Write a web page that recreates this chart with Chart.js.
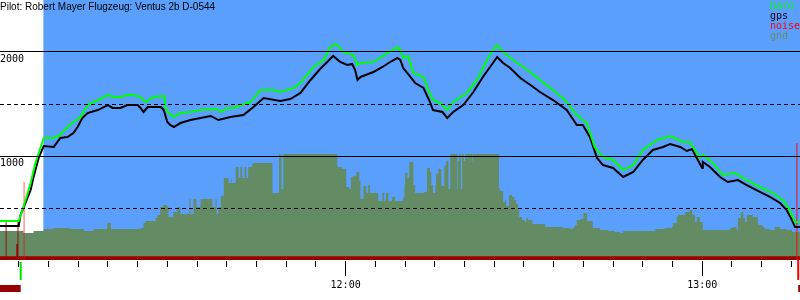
<!DOCTYPE html>
<html>
<head>
<meta charset="utf-8">
<script src="https://cdn.jsdelivr.net/npm/chart.js@4.4.1/dist/chart.umd.min.js"></script>
<style>
  html, body { margin: 0; padding: 0; background: #fff; }
</style>
</head>
<body>
<canvas id="flug" width="800" height="300"></canvas>
<script>
// Zeit in Minuten relativ zu 12:00, Hoehe in m
const title = 'Pilot: Robert Mayer Flugzeug: Ventus 2b D-0544';
const timeRange = [-58.15, 76.45];
const flightStart = -50.85;          // blauer Bereich ab hier
const takeoff = -54.67;
const landing = 76.15;
const hourTicks = [0, 60];
const hourLabels = ['12:00', '13:00'];
const altLabels = [1000, 2000];
const legendNames = ['baro', 'gps', 'noise', 'gnd'];

const baro = [
  [-58.2,375],[-55.0,375],[-54.2,510],[-53.0,740],[-52.2,933],[-51.3,1087],[-50.8,1173],[-49.1,1173],
  [-48.0,1202],[-46.8,1279],[-45.8,1327],[-44.6,1375],[-43.4,1490],[-42.4,1519],[-41.2,1548],[-40.0,1587],
  [-39.0,1567],[-37.9,1567],[-36.7,1587],[-35.7,1587],[-34.5,1567],[-33.7,1519],[-32.3,1567],[-30.8,1577],
  [-30.5,1577],[-30.3,1462],[-29.8,1413],[-28.9,1375],[-27.8,1413],[-26.1,1423],[-24.4,1442],[-21.6,1452],
  [-21.0,1423],[-19.9,1462],[-18.9,1462],[-16.0,1519],[-14.3,1635],[-12.1,1635],[-11.0,1615],[-8.8,1654],
  [-7.6,1702],[-5.4,1856],[-3.7,1923],[-2.6,2048],[-1.7,2077],[-1.2,2058],[-0.4,2000],[1.3,1971],
  [2.0,1875],[2.5,1894],[4.7,1904],[7.0,1990],[8.7,2048],[9.2,2019],[9.7,1942],[10.5,1962],
  [11.4,1798],[13.1,1760],[13.9,1635],[14.7,1538],[15.9,1510],[17.1,1442],[18.1,1519],[20.4,1606],
  [22.1,1731],[23.8,1923],[24.8,2019],[25.5,2067],[26.5,2000],[28.2,1923],[29.4,1875],[31.1,1808],
  [32.7,1731],[34.9,1635],[36.9,1538],[38.9,1394],[40.6,1317],[41.9,1087],[43.3,990],[45.0,962],
  [46.7,865],[48.4,913],[50.0,1058],[52.4,1154],[54.6,1192],[56.8,1135],[57.9,1135],[59.6,981],
  [60.1,1010],[61.8,933],[63.5,817],[65.5,837],[67.5,769],[69.7,702],[71.9,644],[73.6,577],
  [74.7,481],[75.6,365],[76.6,365]
];

const gps = [
  [-58.2,327],[-55.0,327],[-54.7,433],[-54.2,500],[-53.0,673],[-52.5,798],[-51.6,990],[-50.8,1096],
  [-49.1,1087],[-48.0,1173],[-46.8,1183],[-45.8,1221],[-45.1,1279],[-44.3,1365],[-43.4,1413],[-41.7,1442],
  [-40.0,1490],[-39.2,1462],[-37.9,1462],[-36.7,1490],[-35.0,1490],[-34.5,1462],[-34.0,1423],[-33.3,1471],
  [-31.1,1471],[-30.6,1442],[-30.0,1327],[-29.5,1298],[-28.9,1279],[-27.8,1317],[-26.1,1346],[-24.4,1365],
  [-22.7,1385],[-21.4,1346],[-19.4,1375],[-17.2,1394],[-15.5,1471],[-13.8,1558],[-11.0,1529],[-9.3,1548],
  [-7.6,1606],[-5.9,1731],[-4.3,1836],[-3.1,1904],[-2.1,1962],[-0.9,1904],[0.3,1875],[1.1,1885],
  [1.6,1827],[2.0,1731],[2.5,1760],[4.7,1808],[6.2,1856],[7.5,1904],[8.7,1942],[9.2,1923],
  [9.7,1846],[10.9,1760],[11.7,1702],[13.1,1654],[14.2,1519],[14.7,1442],[16.3,1423],[17.1,1365],
  [18.1,1423],[19.8,1490],[21.5,1615],[23.1,1760],[24.3,1856],[25.5,1952],[26.5,1894],[27.7,1846],
  [29.4,1750],[31.1,1683],[32.7,1615],[34.9,1538],[37.2,1442],[38.9,1298],[39.9,1298],[41.1,1183],
  [42.3,981],[43.3,913],[45.0,885],[46.7,798],[48.4,846],[50.0,962],[51.7,1058],[53.4,1087],
  [54.6,1115],[56.3,1087],[57.4,1048],[58.3,1067],[58.8,1010],[60.0,885],[60.1,942],[61.3,894],
  [63.0,798],[64.3,750],[66.0,769],[67.5,721],[69.7,654],[71.4,606],[73.1,548],[74.2,481],
  [75.1,385],[75.6,317],[76.6,317]
];

// Treppenstufen: Wert gilt ab dem Zeitpunkt bis zum naechsten
const gnd = [
  [-58.2,279],[-54.2,260],[-52.5,279],[-50.8,298],[-49.1,308],[-46.3,298],[-44.0,279],[-42.4,298],
  [-40.1,356],[-39.5,298],[-37.0,298],[-34.5,308],[-34.0,356],[-33.7,375],[-32.0,404],[-31.7,433],
  [-31.2,510],[-30.7,529],[-30.0,510],[-29.8,413],[-29.0,462],[-28.3,510],[-27.8,442],[-26.3,587],
  [-26.1,442],[-25.6,587],[-25.1,510],[-24.4,587],[-22.4,510],[-21.9,587],[-21.7,442],[-21.4,510],
  [-21.0,615],[-20.5,788],[-19.7,740],[-19.3,788],[-19.2,740],[-18.5,894],[-18.0,788],[-17.7,894],
  [-17.4,788],[-17.0,894],[-16.7,788],[-16.4,894],[-15.7,933],[-12.3,644],[-11.2,1019],[-10.8,683],
  [-10.5,1019],[-1.4,894],[-0.6,875],[0.1,702],[0.6,683],[0.9,798],[1.3,808],[1.8,846],
  [2.3,760],[2.5,587],[3.0,712],[3.5,644],[3.8,721],[4.1,644],[5.5,567],[6.2,644],
  [6.5,567],[6.8,644],[7.2,567],[7.8,606],[8.3,567],[9.7,606],[9.9,721],[10.0,837],
  [10.4,788],[10.7,942],[11.4,721],[11.7,644],[13.2,654],[13.7,885],[14.2,846],[14.4,721],
  [14.7,644],[15.1,721],[15.2,827],[15.6,875],[16.1,712],[16.6,904],[16.9,952],[17.3,683],
  [17.6,1019],[18.8,683],[18.9,952],[19.1,1019],[19.4,683],[19.6,1019],[19.9,952],[20.1,1019],
  [21.3,952],[21.4,1019],[25.8,683],[26.0,663],[26.5,558],[26.8,577],[27.0,519],[27.5,625],
  [28.0,606],[28.4,577],[28.7,538],[29.0,481],[29.2,413],[29.7,385],[30.2,365],[30.4,404],
  [30.7,385],[31.4,346],[33.6,317],[36.6,308],[37.8,298],[38.3,317],[38.6,337],[38.9,385],
  [39.5,394],[40.0,452],[40.6,375],[41.6,308],[42.8,288],[44.2,279],[45.3,269],[46.2,260],
  [46.7,279],[52.1,298],[53.7,308],[54.9,317],[55.1,356],[55.7,413],[55.9,433],[57.1,462],
  [57.9,481],[58.3,433],[58.8,365],[59.1,413],[59.6,365],[60.1,288],[63.8,288],[64.7,308],
  [65.2,317],[65.8,288],[66.0,404],[66.5,462],[66.9,404],[67.2,365],[67.5,433],[68.5,413],
  [69.4,337],[70.2,317],[70.5,298],[71.4,288],[72.2,317],[73.1,298],[74.2,288],[75.1,269],
  [76.6,269]
];

const noiseLow = [[-58.2,35],[-57.2,365],[-57.05,35],[-55.4,155],[-55.2,365],[-55.05,35],[76.6,35]];
const noise = [[-54.2,750],[-54.05,0],[75.85,1125],[76.05,0]];

const pts = arr => arr.map(([t, v]) => ({ x: t, y: v }));
const monoFont = { family: '"DejaVu Sans Mono", monospace', size: 10 };

const extras = {
    id: 'extras',
    beforeDatasetsDraw(chart) {
        const { ctx, chartArea: a, scales: { x } } = chart;
        const x0 = x.getPixelForValue(flightStart);
        ctx.save();
        ctx.fillStyle = '#5a9ffc';
        ctx.fillRect(x0, a.top, a.right - x0, a.bottom - a.top);
        ctx.restore();
    },
    afterDraw(chart) {
        const { ctx, chartArea: a, scales: { x } } = chart;
        const xs = x.getPixelForValue(takeoff);
        const xl = x.getPixelForValue(landing);
        ctx.save();
        // Bodenzeit vor Start / nach Landung
        ctx.fillStyle = '#990000';
        ctx.fillRect(a.left, a.bottom + 25, xs - a.left, 7);
        ctx.fillRect(xl, a.bottom + 25, a.right - xl, 7);
        // Start- und Landemarke
        ctx.lineWidth = 2;
        ctx.strokeStyle = '#00dd00';
        ctx.beginPath(); ctx.moveTo(xs, a.bottom + 2); ctx.lineTo(xs, a.bottom + 20); ctx.stroke();
        ctx.strokeStyle = '#ff0000';
        ctx.beginPath(); ctx.moveTo(xl, a.bottom); ctx.lineTo(xl, a.bottom + 20); ctx.stroke();
        // Titel
        ctx.fillStyle = '#000';
        ctx.textBaseline = 'alphabetic';
        ctx.textAlign = 'left';
        ctx.font = '10px "Liberation Sans", Arial, sans-serif';
        ctx.fillText(title, 0, 10);
        // Legende
        ctx.font = '10px "DejaVu Sans Mono", monospace';
        legendNames.forEach((name, i) => {
            const ds = chart.data.datasets.find(d => d.label === name);
            ctx.fillStyle = ds.legendColor;
            ctx.fillText(name, 770, 9 + i * 10);
        });
        ctx.restore();
    }
};

new Chart(document.getElementById('flug'), {
    type: 'line',
    data: {
        datasets: [
            { label: 'baro', data: pts(baro), borderColor: '#00ff00', legendColor: '#00ff00',
              borderWidth: 2, pointRadius: 0, fill: false },
            { label: 'gps', data: pts(gps), borderColor: '#000000', legendColor: '#000000',
              borderWidth: 2, pointRadius: 0, fill: false },
            { label: 'noise', data: pts(noise), stepped: true, borderWidth: 0, pointRadius: 0,
              backgroundColor: '#ff0000', legendColor: '#ff0000', fill: 'origin' },
            { label: 'noiseLow', data: pts(noiseLow), stepped: true, borderWidth: 0, pointRadius: 0,
              backgroundColor: '#990000', fill: 'origin' },
            { label: 'gnd', data: pts(gnd), stepped: true, borderWidth: 0, pointRadius: 0,
              backgroundColor: '#648c64', legendColor: '#648c64', fill: 'origin' }
        ]
    },
    options: {
        responsive: false,
        animation: false,
        events: [],
        layout: { padding: { left: 0, right: 0, top: 0, bottom: 6 } },
        plugins: {
            legend: { display: false },
            tooltip: { enabled: false },
            title: { display: false }
        },
        scales: {
            x: {
                type: 'linear',
                min: timeRange[0],
                max: timeRange[1],
                afterFit: s => { s.paddingLeft = 0; s.paddingRight = 0; },
                border: { display: false },
                grid: {
                    drawOnChartArea: false,
                    drawTicks: true,
                    tickLength: 16,
                    tickColor: '#000',
                    tickWidth: 1,
                    tickBorderDash: c => (c.tick && hourTicks.includes(c.tick.value)) ? [0, 1, 16, 10] : [0, 1, 6, 30]
                },
                ticks: {
                    stepSize: 5,
                    includeBounds: false,
                    autoSkip: false,
                    maxRotation: 0,
                    padding: 3,
                    color: '#000',
                    font: monoFont,
                    callback: v => {
                        const i = hourTicks.indexOf(v);
                        return i < 0 ? '' : hourLabels[i];
                    }
                }
            },
            y: {
                min: 0,
                max: 2500,
                afterFit: s => { s.paddingTop = 0; s.paddingBottom = 0; },
                border: {
                    display: false,
                    dash: c => (c.tick && c.tick.value % 1000) ? [4, 3] : []
                },
                grid: {
                    z: 1,
                    drawTicks: false,
                    lineWidth: 1,
                    color: c => (c.tick && c.tick.value > 0 && c.tick.value < 2500) ? '#000' : 'rgba(0,0,0,0)'
                },
                ticks: {
                    stepSize: 500,
                    mirror: true,
                    padding: 0,
                    labelOffset: 7,
                    color: '#000',
                    font: monoFont,
                    callback: v => altLabels.includes(v) ? String(v) : ''
                }
            }
        }
    },
    plugins: [extras]
});
</script>
</body>
</html>
